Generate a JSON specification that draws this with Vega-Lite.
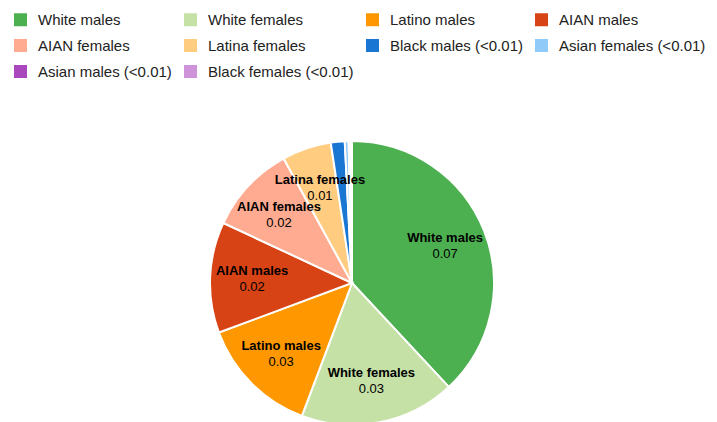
{
  "$schema": "https://vega.github.io/schema/vega-lite/v6.json",
  "autosize": "none",
  "width": 704,
  "height": 366,
  "padding": {"left": 0, "top": 100, "right": 13, "bottom": 0},
  "background": "white",
  "config": {"view": {"stroke": null}, "font": "Liberation Sans"},
  "data": {
    "values": [
      {"category": "White males", "value": 0.0700, "pct": "0.07"},
      {"category": "White females", "value": 0.0325, "pct": "0.03"},
      {"category": "Latino males", "value": 0.0250, "pct": "0.03"},
      {"category": "AIAN males", "value": 0.0232, "pct": "0.02"},
      {"category": "AIAN females", "value": 0.0185, "pct": "0.02"},
      {"category": "Latina females", "value": 0.0103, "pct": "0.01"},
      {"category": "Black males (<0.01)", "value": 0.0029, "pct": ""},
      {"category": "Asian females (<0.01)", "value": 0.0008, "pct": ""},
      {"category": "Asian males (<0.01)", "value": 0.0004, "pct": ""},
      {"category": "Black females (<0.01)", "value": 0.0003, "pct": ""}
    ]
  },
  "encoding": {
    "theta": {"field": "value", "type": "quantitative", "stack": true},
    "order": {"field": "value", "sort": "descending"}
  },
  "layer": [
    {
      "mark": {"type": "arc", "radius": 142, "stroke": "white", "strokeWidth": 2},
      "encoding": {
        "color": {
          "field": "category",
          "type": "nominal",
          "scale": {
            "domain": ["White males", "White females", "Latino males", "AIAN males", "AIAN females", "Latina females", "Black males (<0.01)", "Asian females (<0.01)", "Asian males (<0.01)", "Black females (<0.01)"],
            "range": ["#4caf50", "#c5e1a5", "#ff9800", "#d84315", "#ffab91", "#ffcc80", "#1976d2", "#90caf9", "#ab47bc", "#ce93d8"]
          },
          "legend": {
            "title": null,
            "orient": "none",
            "direction": "horizontal",
            "legendX": 13,
            "legendY": -88,
            "columns": 4,
            "symbolType": "square",
            "symbolSize": 169,
            "symbolStrokeWidth": 0,
            "symbolOpacity": 1,
            "labelFont": "Liberation Sans",
            "labelFontSize": 15,
            "labelColor": "#222222",
            "labelOffset": 10,
            "columnPadding": 11,
            "rowPadding": 10,
            "labelLimit": 300
          }
        }
      }
    },
    {
      "mark": {"type": "text", "radius": 100, "font": "Liberation Sans", "fontSize": 13, "fontWeight": "bold", "dy": -8, "color": "#000000"},
      "encoding": {
        "text": {"condition": {"test": "datum.pct != ''", "field": "category"}, "value": ""}
      }
    },
    {
      "mark": {"type": "text", "radius": 100, "font": "Liberation Sans", "fontSize": 13, "dy": 8, "color": "#000000"},
      "encoding": {
        "text": {"field": "pct"}
      }
    }
  ]
}
